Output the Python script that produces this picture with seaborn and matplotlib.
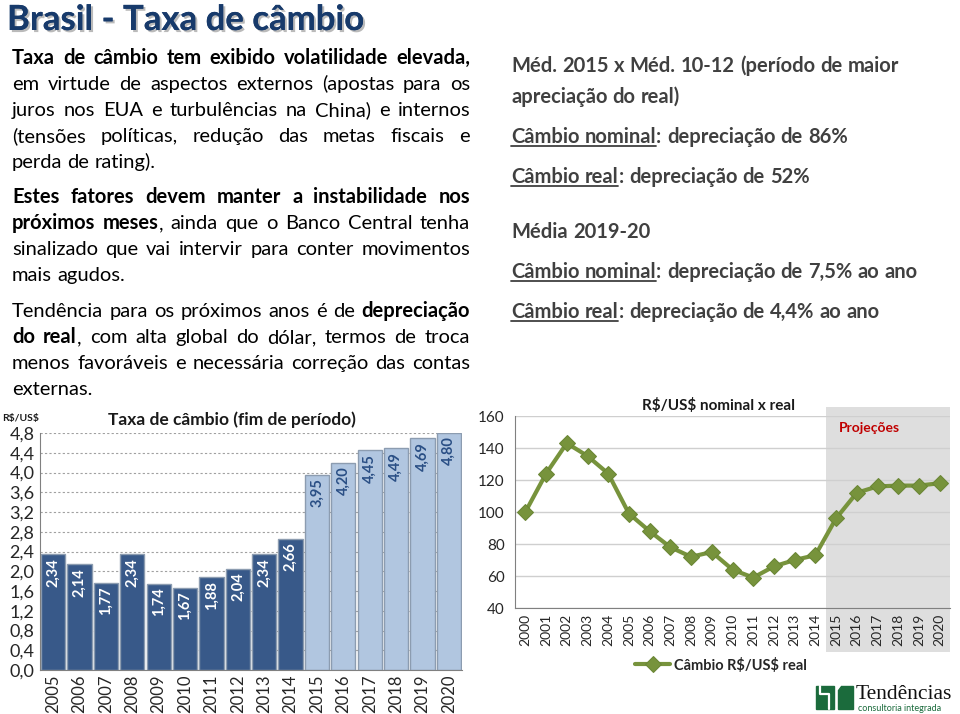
import re
import numpy as np
import pandas as pd
import matplotlib
matplotlib.use('Agg')
import matplotlib.pyplot as plt
import matplotlib.patheffects as pe
from matplotlib.patches import Rectangle, Polygon
import seaborn as sns

# dados
bar_years = [str(y) for y in range(2005, 2021)]
bar_values = [2.34, 2.14, 1.77, 2.34, 1.74, 1.67, 1.88, 2.04, 2.34, 2.66,
              3.95, 4.20, 4.45, 4.49, 4.69, 4.80]
bar_phase = ['hist'] * 10 + ['proj'] * 6
bar_ticks = [0.0, 0.4, 0.8, 1.2, 1.6, 2.0, 2.4, 2.8, 3.2, 3.6, 4.0, 4.4, 4.8]

line_years = list(range(2000, 2021))
line_values = [100, 124, 143, 135, 124, 99, 88, 78, 72, 75, 64, 59, 66, 70, 73,
               96, 112, 116, 116.5, 116.5, 118]
line_ticks = [40, 60, 80, 100, 120, 140, 160]

par1 = ["**Taxa de câmbio tem exibido volatilidade elevada,**",
        "em virtude de aspectos externos (apostas para os",
        "juros nos EUA e turbulências na China) e internos",
        "(tensões políticas, redução das metas fiscais e",
        "perda de rating)."]
par2 = ["**Estes fatores devem manter a instabilidade nos",
        "próximos meses**, ainda que o Banco Central tenha",
        "sinalizado que vai intervir para conter movimentos",
        "mais agudos."]
par3 = ["Tendência para os próximos anos é de **depreciação",
        "do real**, com alta global do dólar, termos de troca",
        "menos favoráveis e necessária correção das contas",
        "externas."]
right_lines = ["Méd. 2015 x Méd. 10-12 (período de maior",
               "apreciação do real)",
               "__Câmbio nominal__: depreciação de 86%",
               "__Câmbio real__: depreciação de 52%",
               "Média 2019-20",
               "__Câmbio nominal__: depreciação de 7,5% ao ano",
               "__Câmbio real__: depreciação de 4,4% ao ano"]

sns.set_style('white')
FONT = 'Lato'
plt.rcParams['font.family'] = [FONT, 'DejaVu Sans']
plt.rcParams['text.parse_math'] = False

fig = plt.figure(figsize=(9.6, 7.14), dpi=100)
fig.patch.set_facecolor('white')

# camada de fundo em pixels para textos
bg = fig.add_axes([0, 0, 1, 1])
bg.set_xlim(0, 960)
bg.set_ylim(714, 0)
bg.axis('off')
pending = []


def parse(line, state):
    words = []
    for w in line.split(' '):
        parts = []
        for tok in re.split(r'(\*\*|__)', w):
            if tok == '**':
                state['b'] = not state['b']
            elif tok == '__':
                state['u'] = not state['u']
            elif tok:
                parts.append((tok, state['b'], state['u']))
        words.append(parts)
    return words


def draw_line(line, x0, x1, y, state, size=14.5, color='black', justify=False):
    words = parse(line, state)
    objs = [[bg.text(x0, y, s, fontsize=size, fontweight='bold' if b else 'normal',
                     color=color, ha='left', va='baseline') for (s, b, u) in w] for w in words]
    space = 0.26 * size * 100 / 72
    pending.append((words, objs, space, x0, x1, y, color, justify))


def place(words, objs, widths, gap, x0):
    x = x0
    for ts, ws in zip(objs, widths):
        for t, wd in zip(ts, ws):
            t.set_x(x)
            x += wd
        x += gap


def layout():
    # mede depois de um desenho real, posiciona e confere a margem direita
    fig.canvas.draw()
    renderer = fig.canvas.get_renderer()
    for words, objs, space, x0, x1, y, color, justify in pending:
        widths = [[t.get_window_extent(renderer).width for t in ts] for ts in objs]
        total = sum(sum(ws) for ws in widths)
        n = len(words)
        gap = (x1 - x0 - total) / (n - 1) if justify and n > 1 else space
        place(words, objs, widths, gap, x0)
        if justify and n > 1:
            fig.canvas.draw()
            right = objs[-1][-1].get_window_extent(renderer).x1
            gap -= (right - x1) / (n - 1)
            place(words, objs, widths, gap, x0)
    fig.canvas.draw()
    for words, objs, space, x0, x1, y, color, justify in pending:
        ul = None
        for w, ts in zip(words, objs):
            for (s, b, u), t in zip(w, ts):
                bb = t.get_window_extent(renderer)
                if u:
                    ul = [bb.x0 if ul is None else ul[0], bb.x1]
                elif ul is not None:
                    bg.plot(ul, [y + 3, y + 3], color=color, lw=1.3)
                    ul = None
        if ul is not None:
            bg.plot(ul, [y + 3, y + 3], color=color, lw=1.3)


def draw_paragraph(lines, x0, x1, ys, bold=False, **kw):
    state = {'b': bold, 'u': False}
    for i, (line, y) in enumerate(zip(lines, ys)):
        draw_line(line, x0, x1, y, state, justify=(i < len(lines) - 1), **kw)


# titulo
bg.text(7, 30, 'Brasil - Taxa de câmbio', fontsize=25, fontweight='bold', color='#173a6b',
        ha='left', va='baseline',
        path_effects=[pe.withSimplePatchShadow(offset=(1.5, -1.5), shadow_rgbFace='#777777', alpha=0.5),
                      pe.Normal()])

draw_paragraph(par1, 12, 470, [64, 90, 116, 142, 168])
draw_paragraph(par2, 12, 470, [203, 229, 255, 281])
draw_paragraph(par3, 12, 470, [317, 343, 369, 395])

state = {'b': True, 'u': False}
for line, y in zip(right_lines, [72, 103, 143, 183, 238, 278, 318]):
    draw_line(line, 511, 950, y, state, color='#404040')

# grafico de barras
ax1 = fig.add_axes([40 / 960, 44 / 714, 422 / 960, 237 / 714])
df_bar = pd.DataFrame({'year': bar_years, 'value': bar_values, 'phase': bar_phase})
sns.barplot(data=df_bar, x='year', y='value', hue='phase', dodge=False,
            palette={'hist': '#2a5796', 'proj': '#a9c5e8'}, width=0.92,
            edgecolor='#8c9cb0', linewidth=1.0, legend=False, ax=ax1)
ax1.set_xlim(-0.5, len(bar_years) - 0.5)
ax1.set_ylim(0, 4.8)
ax1.set_yticks(bar_ticks)
ax1.set_yticklabels([f'{t:.1f}'.replace('.', ',') for t in bar_ticks])
ax1.yaxis.grid(True, linestyle=(0, (2, 2)), color='#a0a0a0', linewidth=0.8)
ax1.set_axisbelow(True)
ax1.set_xlabel('')
ax1.set_ylabel('')
ax1.set_xticks(np.arange(-0.5, len(bar_years), 1), minor=True)
ax1.tick_params(axis='x', which='major', rotation=90, length=0, labelsize=12, labelcolor='#262626', pad=3)
ax1.tick_params(axis='x', which='minor', length=5, color='#808080')
ax1.tick_params(axis='y', length=0, labelsize=13, labelcolor='#262626', pad=4)
for s in ['top', 'right']:
    ax1.spines[s].set_visible(False)
for s in ['left', 'bottom']:
    ax1.spines[s].set_color('#808080')
for i, (v, ph) in enumerate(zip(bar_values, bar_phase)):
    ax1.text(i, v - 0.07, f'{v:.2f}'.replace('.', ','), rotation=90, ha='center', va='top',
             fontsize=10.5, fontweight='bold', color='white' if ph == 'hist' else '#2a4f85')
bg.text(232, 420, 'Taxa de câmbio (fim de período)', fontsize=12.5, fontweight='bold',
        ha='center', va='center', color='#1a1a1a')
bg.text(2, 418, 'R$/US$', fontsize=7.5, fontweight='bold', ha='left', va='center', color='#1a1a1a')

# grafico de linha
ax2 = fig.add_axes([515 / 960, 106 / 714, 435 / 960, 192 / 714])
ax2.axvspan(2014.5, 2020.5, ymin=-0.23, ymax=1.047, color='#dedede', clip_on=False, zorder=0, lw=0)
sns.lineplot(x=line_years, y=line_values, marker='D', markersize=8, color='#77933c',
             markeredgecolor='#6a8635', linewidth=3, label='Câmbio R$/US$ real', ax=ax2)
ax2.set_xlim(1999.5, 2020.5)
ax2.set_ylim(40, 160)
ax2.set_yticks(line_ticks)
ax2.set_xticks(line_years)
ax2.set_xticks(np.arange(1999.5, 2021, 1), minor=True)
ax2.yaxis.grid(True, color='#cfcfcf', linewidth=1)
ax2.set_axisbelow(True)
ax2.tick_params(axis='x', which='major', rotation=90, length=0, labelsize=10, labelcolor='#262626', pad=4)
ax2.tick_params(axis='x', which='minor', length=4, color='#808080')
ax2.tick_params(axis='y', length=4, color='#808080', labelsize=11, labelcolor='#262626')
ax2.patch.set_alpha(0)
for s in ['top', 'right']:
    ax2.spines[s].set_visible(False)
for s in ['left', 'bottom']:
    ax2.spines[s].set_color('#808080')
ax2.text(2016.6, 152.5, 'Projeções', color='#c00000', fontsize=10, fontweight='bold',
         ha='center', va='center')
ax2.legend(loc='center', bbox_to_anchor=(0.474, -0.297), frameon=False,
           prop={'weight': 'bold', 'size': 10.5}, handlelength=2.4, handletextpad=0.3)
bg.text(718, 405, 'R$/US$ nominal x real', fontsize=11, fontweight='bold',
        ha='center', va='center', color='#1a1a1a')

# logo
green = '#1b6b3c'
bg.add_patch(Rectangle((816, 686), 18, 23, color=green))
bg.plot([820, 820, 829, 829], [686, 694, 694, 709], color='white', lw=1.6)
bg.add_patch(Polygon([[841, 686], [853, 686], [853, 709], [838, 709], [838, 690]], color=green))
bg.text(856, 699, 'Tendências', fontsize=15.5, family='Liberation Serif', ha='left', va='baseline', color='#111111')
bg.text(858, 711, 'consultoria integrada', fontsize=6.5, ha='left', va='baseline', color=green)

layout()
fig.savefig('out.png', dpi=100)
